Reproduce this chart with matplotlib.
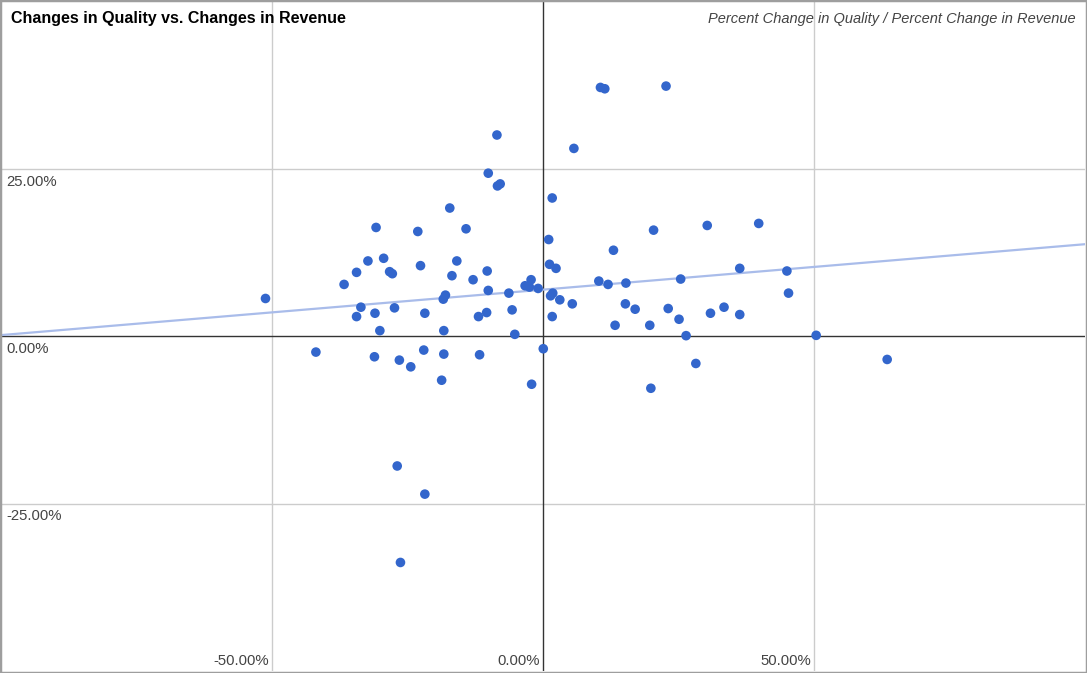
import numpy as np
import matplotlib
matplotlib.use("Agg")
import matplotlib.pyplot as plt
from matplotlib.patches import Rectangle
from matplotlib.transforms import blended_transform_factory

# percent change in quality (x) vs percent change in revenue (y)
quality_pct = [
    -51.2, -41.9, -36.7, -34.4, -34.4, -33.6, -32.3, -30.8, -31.1, -31.0,
    -30.1, -29.4, -28.3, -27.8, -27.4, -26.9, -26.5, -26.3, -24.4, -23.1,
    -22.6, -21.8, -22.0, -21.8, -18.7, -18.3, -18.3, -18.4, -18.0, -17.2,
    -16.8, -15.9, -14.2, -12.9, -11.9, -11.7, -10.4, -10.3, -10.1, -10.1,
    -8.4, -8.5, -7.9, -6.3, -5.7, -5.2, -3.3, -2.5, -2.2, -2.1,
    -0.9, 0.05, 1.05, 1.2, 1.4, 1.8, 1.7, 1.7, 2.4, 3.1,
    5.7, 5.4, 10.3, 10.6, 11.4, 12.0, 13.0, 13.3, 15.3, 15.2,
    17.0, 19.7, 19.9, 20.4, 22.7, 23.1, 25.1, 25.4, 26.4, 28.2,
    30.3, 30.9, 33.4, 36.3, 36.3, 39.8, 45.0, 45.3, 50.4, 63.5,
]
revenue_pct = [
    5.6, -2.4, 7.7, 9.5, 2.9, 4.3, 11.2, 16.2, -3.1, 3.4,
    0.8, 11.6, 9.6, 9.3, 4.2, -19.4, -3.6, -33.8, -4.6, 15.6,
    10.5, -23.6, -2.1, 3.4, -6.6, -2.7, 0.8, 5.5, 6.1, 19.1,
    9.0, 11.2, 16.0, 8.4, 2.9, -2.8, 3.5, 9.7, 24.3, 6.8,
    22.4, 30.0, 22.7, 6.4, 3.9, 0.25, 7.5, 7.3, 8.4, -7.2,
    7.1, -1.9, 14.4, 10.7, 6.0, 6.4, 2.9, 20.6, 10.1, 5.4,
    28.0, 4.8, 8.2, 37.1, 36.9, 7.7, 12.8, 1.6, 7.9, 4.8,
    4.0, 1.6, -7.8, 15.8, 37.3, 4.1, 2.5, 8.5, 0.05, -4.1,
    16.5, 3.4, 4.3, 3.2, 10.1, 16.8, 9.7, 6.4, 0.1, -3.5,
]
x_ticks = [-50, 0, 50]
y_ticks = [25, 0, -25]

W, H = 1087, 673
fig = plt.figure(figsize=(W / 100, H / 100), dpi=100)
ax = fig.add_axes([1 / W, 2 / H, 1084 / W, 670 / H])
ax.set_xlim(-100, 100)
ax.set_ylim(-50, 50)
for s in ax.spines.values():
    s.set_visible(False)
ax.set_xticks([]); ax.set_yticks([])

# gridlines + zero baselines
for v in x_ticks:
    if v == 0:
        ax.axvline(0, color="#333333", lw=1, zorder=1)
    else:
        ax.axvline(v, color="#cccccc", lw=1, zorder=0)
for v in y_ticks:
    if v == 0:
        ax.axhline(0, color="#333333", lw=1, zorder=1)
    else:
        ax.axhline(v, color="#cccccc", lw=1, zorder=0)

# linear trendline
x = np.array(quality_pct); y = np.array(revenue_pct)
m, b = np.polyfit(x, y, 1)
xs = np.array([-100, 100])
ax.plot(xs, m * xs + b, color="#a9bcea", lw=1.6, zorder=2)

ax.scatter(x, y, s=48, color="#3366cc", edgecolors="none", zorder=3)

# tick labels drawn inside the plot, google-charts style
lab = dict(fontsize=10.7, color="#444444", family="Liberation Sans")
tx = blended_transform_factory(ax.transData, ax.transAxes)
for v in x_ticks:
    ax.annotate(f"{v:.2f}%", (v, 0), xycoords=tx, xytext=(-3, 10),
                textcoords="offset pixels", ha="right", va="center", **lab)
ty = blended_transform_factory(ax.transAxes, ax.transData)
for v in y_ticks:
    ax.annotate(f"{v:.2f}%", (5 / 1084, v), xycoords=ty, xytext=(0, -13),
                textcoords="offset pixels", ha="left", va="center", **lab)

fig.text(11 / W, 1 - 19 / H, "Changes in Quality vs. Changes in Revenue",
         fontsize=11.5, fontweight="bold", color="#000000",
         family="Liberation Sans", ha="left", va="center")
fig.text(1076 / W, 1 - 19 / H,
         "Percent Change in Quality / Percent Change in Revenue",
         fontsize=10.5, style="italic", color="#444444",
         family="Liberation Sans", ha="right", va="center")

# grey frame around the whole image
fig.patches.append(Rectangle((0, 0), 1, 1, transform=fig.transFigure,
                             fill=False, edgecolor="#9e9e9e", lw=2.5))

fig.savefig("out.png", dpi=100)
